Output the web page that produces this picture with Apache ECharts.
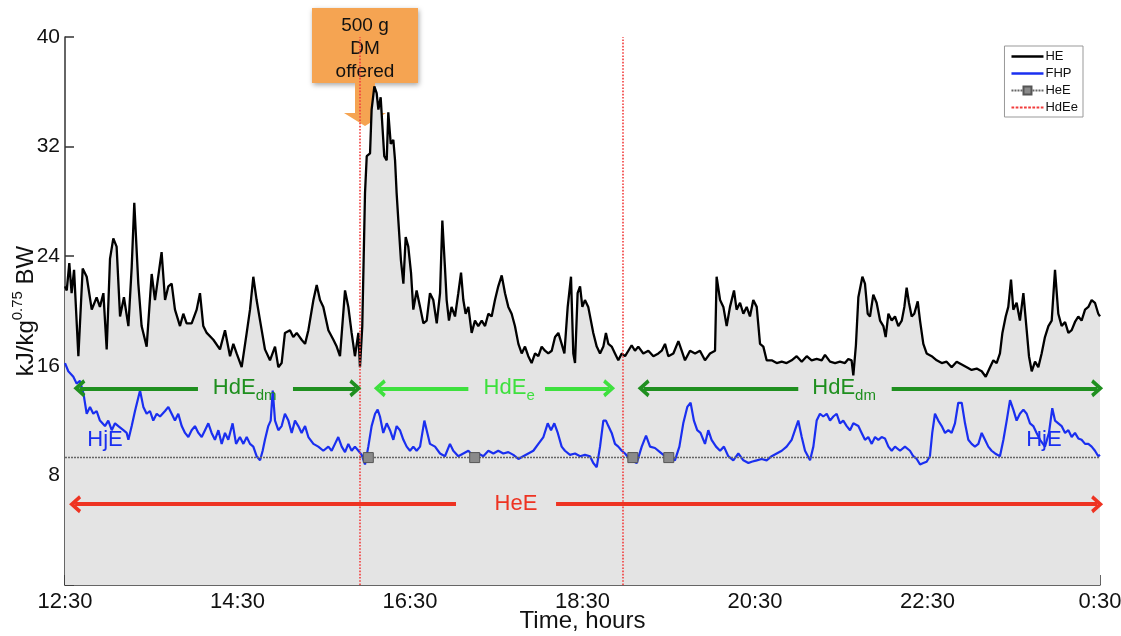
<!DOCTYPE html>
<html><head><meta charset="utf-8">
<script src="https://cdn.jsdelivr.net/npm/echarts@6/dist/echarts.min.js"></script>
<style>html,body{margin:0;padding:0;background:#fff}#c{width:1121px;height:636px}</style>
</head><body><div id="c"></div>
<script>
// x values: minutes after 12:30
const xTickLabels = ['12:30','14:30','16:30','18:30','20:30','22:30','0:30'];
const HE = [[0,21.8],[1.2,21.5],[3,23.5],[4.6,21.3],[6.3,23.0],[9.3,16.7],[12.3,23.1],[15.1,22.5],[18.6,20.1],[22,21.0],[24.3,20.3],[26.7,21.3],[29,17.2],[31.3,23.8],[33.6,25.3],[35.9,24.7],[38.3,19.6],[41,21.0],[44.1,18.9],[46.4,23.2],[48.2,27.9],[51,22.0],[53.3,18.9],[56.8,17.4],[60.3,22.7],[62.6,20.8],[67.2,24.3],[69.6,20.8],[71.9,21.8],[74.2,22.0],[76.5,20.1],[80,18.9],[82.3,19.8],[84.6,19.1],[88.1,19.1],[91.6,20.1],[93.9,21.3],[96.2,18.9],[98.6,18.4],[103.2,17.9],[107.8,17.2],[111.3,18.6],[114.8,16.7],[117.1,17.6],[119.4,16.9],[122.9,15.9],[126.4,18.4],[128.7,20.1],[131,22.5],[133.3,20.8],[135.7,19.3],[139.1,17.2],[142.6,16.4],[146.1,17.4],[148.4,15.9],[150.7,16.2],[153,18.4],[156.5,18.6],[158.8,18.1],[161.2,18.4],[164.6,17.9],[167,17.6],[169.3,18.6],[172.8,20.8],[175.1,21.9],[177.4,20.8],[179.7,20.3],[183.2,18.6],[186.7,17.9],[189,17.4],[191.3,16.7],[194.8,21.5],[197.1,20.3],[199.4,18.4],[201.7,16.7],[204.1,18.4],[205.2,15.9],
[206.8,18.9],[208.7,28.6],[209.9,31.3],[212.2,31.5],[213.3,34.7],[215.2,36.4],[216.8,35.9],[218,34.7],[219.6,35.6],[220.8,33.5],[222.1,31.3],[223.8,31.0],[224.9,34.5],[226.6,32.2],[228.4,32.5],[229.6,31.0],[230.7,28.6],[231.9,26.6],[233.7,23.7],[235.4,22.0],[237,25.4],[238.8,24.7],[240.7,22.8],[242.3,20.1],[244.6,21.5],[247,20.3],[249.3,19.1],[251.6,19.3],[253.9,21.3],[256.2,20.8],[258.6,19.1],[260.9,21.3],[262.5,26.6],[264.3,23.2],[265.5,20.8],[267.1,19.3],[268.9,20.3],[271.3,19.6],[273.6,21.3],[275.5,22.8],[277.1,20.8],[278.7,19.8],[280.6,20.3],[282.9,18.4],[285.2,19.3],[287.5,18.9],[289.9,19.3],[292.2,18.9],[294.5,19.8],[296.8,19.6],[299.1,20.8],[301.4,21.8],[303.8,22.6],[306.1,21.3],[308.4,20.3],[310.7,19.8],[313,18.9],[315.4,17.6],[317.7,16.9],[320,17.4],[322.3,16.7],[324.6,16.2],[327,16.9],[329.3,16.7],[331.6,17.4],[333.9,17.1],[336.2,16.9],[338.6,17.1],[340.9,18.1],[343.2,18.4],[345.5,17.6],[347.4,16.9],[349.7,20.3],[352,22.5],[353.6,16.9],[354.8,16.2],[356.6,21.3],[358.3,21.8],[359.9,20.3],[361.7,20.8],[364,20.3],
[367.5,18.4],[369.9,17.4],[372.2,16.9],[374.5,17.4],[376.3,18.4],[378,17.6],[380.3,17.4],[382.6,16.9],[384.9,16.4],[387.3,16.9],[389.6,16.7],[391.9,17.1],[394.2,17.5],[396.5,17.1],[398.8,17.4],[402.3,16.9],[405.8,17.1],[409.3,16.7],[412.8,16.9],[415.1,17.1],[417.4,17.6],[419.7,16.7],[423.2,16.9],[426.7,17.8],[429,17.1],[431.3,16.4],[434.8,17.1],[438.3,16.9],[441.7,17.1],[445.2,16.4],[448.7,16.9],[452.2,17.1],[453.3,22.5],[455.7,20.8],[458,20.3],[460.3,18.9],[462.6,20.3],[465.4,21.5],[467.2,20.1],[469.6,20.6],[471.9,19.8],[474.2,20.3],[476.5,19.6],[478.8,20.8],[481.2,20.3],[483.5,17.6],[485.8,17.4],[488.1,16.4],[491.6,16.4],[495.1,16.2],[498.6,16.3],[502,16.2],[505.5,16.4],[509,16.7],[512.5,16.3],[516,16.7],[519.4,16.4],[522.9,16.5],[526.4,16.4],[528.7,16.8],[532.2,16.3],[535.7,16.2],[539.1,16.3],[542.6,16.2],[544.9,16.5],[547.2,16.4],[548.4,15.3],[550.2,17.5],
[551.9,21.0],[554.7,22.5],[556.5,22.0],[558.4,19.8],[560,19.6],[562.3,21.2],[564.6,20.6],[567,19.3],[569.3,18.9],[570.9,18.1],[572.8,19.8],[575.1,19.3],[577.4,19.6],[579.7,18.9],[582.1,19.3],[583.9,20.3],[585.5,21.7],[587.1,20.6],[589,19.6],[590.8,19.8],[593.2,20.7],[594.8,19.3],[597.1,17.6],[599.4,16.9],[602.9,16.7],[606.4,16.4],[609.9,16.2],[613.3,16.3],[616.8,15.9],[620.3,16.3],[623.8,16.1],[627.3,15.9],[630.7,15.7],[634.2,15.8],[637.7,15.6],[640.5,15.2],[643.5,15.9],[645.8,16.4],[648.1,16.2],[650.4,16.9],[652.1,18.4],[654.4,19.6],[656.2,20.3],[658.1,22.3],[659.7,20.1],[662,20.6],[664.3,19.3],[666.7,21.3],[669,18.6],[670.6,16.7],[672.5,15.6],[674.8,16.3],[677.1,15.9],[679.4,16.9],[681.7,18.1],[684.1,18.9],[686.4,19.3],[688.7,23.0],[691,19.8],[693.3,18.9],[695.7,19.2],[698,18.4],[700.3,18.6],[702.6,19.2],[704.9,19.6],[707.2,19.3],[709.6,20.1],[711.9,20.3],[714.2,20.8],[716.5,20.6],[718.8,19.8],[720,19.6]];
const FHP = [[0,16.2],[2.3,15.6],[5.8,15.2],[8.1,14.7],[10.4,14.9],[12.8,14.0],[15.1,12.5],[17.4,13.0],[19.7,12.5],[22,12.7],[24.3,12.0],[27.8,11.6],[30.1,12.0],[32.5,11.3],[34.8,11.8],[37.1,11.6],[40.6,11.3],[42.9,11.1],[44.1,10.6],[46.4,11.6],[48.7,12.7],[52.2,14.2],[54.5,13.0],[56.8,12.5],[59.1,12.7],[61.4,12.0],[63.8,12.5],[66.1,12.3],[69.6,12.7],[71.9,13.0],[74.2,12.5],[76.5,12.0],[78.8,12.5],[81.2,11.6],[83.5,11.1],[85.8,10.8],[88.1,11.3],[90.4,11.6],[92.8,11.1],[95.1,10.8],[97.4,11.3],[99.7,11.8],[102,11.1],[104.3,10.6],[106.7,11.3],[109,10.3],[111.3,11.1],[113.6,10.6],[116.6,11.8],[119,10.3],[121.7,10.8],[124.1,10.3],[126.4,10.8],[128.7,10.3],[131,10.1],[133.3,9.4],[135.7,9.1],[137.5,9.8],[139.1,10.6],[141.4,11.6],[143.1,12.0],[144.5,14.2],[146.1,12.0],[148.4,11.3],[150.7,11.6],[153,12.5],[155.4,12.0],[157.7,11.1],[160,12.0],[162.3,11.6],[164.6,11.1],[167,11.6],[169.3,10.8],[172.8,10.3],[176.2,10.1],[179.7,9.8],[183.2,10.1],
[185.5,9.8],[187.8,10.3],[190.1,10.8],[192.5,10.1],[194.8,9.7],[197.1,10.3],[199.4,9.8],[201.7,10.1],[204.1,9.8],[206.4,9.5],[208.7,8.8],[211,10.1],[213.3,11.6],[215.7,12.5],[217.5,12.8],[219.1,12.3],[221.4,11.1],[223.8,11.8],[226.1,11.3],[228.4,10.6],[230.7,11.6],[233,11.3],[235.4,10.6],[237.7,10.1],[240,9.8],[242.3,10.1],[244.6,9.8],[247,10.1],[250,12.0],[251.6,11.3],[253.9,10.3],[257.4,10.1],[260.9,9.6],[264.3,9.4],[267.8,10.3],[270.1,9.8],[273.6,9.4],[277.1,9.6],[280.6,9.8],[284.1,9.4],[287.5,9.6],[291,9.4],[294.5,9.8],[298,9.6],[301.4,9.8],[304.9,9.6],[308.4,9.7],[311.9,9.5],[315.4,9.2],[318.8,9.4],[322.3,9.6],[325.8,9.8],[329.3,10.3],[332.8,10.8],[335.8,11.8],[338.1,11.3],[340.4,11.8],[342.8,11.1],[345.5,10.1],[347.8,9.8],[351.3,9.5],[354.8,9.6],[358.3,9.4],[361.7,9.5],
[365.2,9.4],[367.5,8.9],[369.9,8.6],[372.2,10.1],[374.5,12.0],[376.3,12.0],[378,11.6],[380.3,11.1],[382.6,10.3],[384.9,10.1],[387.3,9.8],[389.6,9.6],[391.9,9.3],[394.2,9.1],[397.7,8.9],[401.2,10.1],[404.2,10.9],[407,10.1],[410.4,10.0],[413.9,9.7],[417.4,9.4],[420.9,9.4],[424.3,9.1],[427.4,10.1],[430.1,11.8],[432.9,13.0],[435.2,13.3],[437.5,12.0],[439.8,11.3],[442.1,11.1],[445.2,10.3],[447.5,11.3],[449.8,10.6],[452.9,10.1],[455.7,9.8],[458.4,10.1],[461.4,9.4],[464.9,9.1],[468.4,9.6],[471.9,9.1],[475.4,8.9],[477.7,9.0],[481.2,9.1],[484.6,9.2],[488.1,9.1],[491.6,9.4],[495.1,9.6],[498.6,9.8],[502,10.1],[505.5,10.6],[507.8,11.3],[510.1,12.0],[512.5,10.8],[514.8,9.8],[518.3,9.1],[520.6,10.1],[522.9,12.0],[525.2,12.5],[527.5,12.3],[529.9,12.5],[532.2,12.0],[534.5,12.3],[536.8,12.5],[539.1,11.8],[541.4,12.0],[543.8,11.6],[546.1,11.3],[548.4,11.8],
[551.9,11.6],[554.2,11.1],[556.5,10.6],[558.8,10.8],[561.2,10.3],[563.5,10.8],[565.8,10.6],[568.1,10.8],[570.4,10.7],[572.8,10.1],[575.1,9.8],[577.4,10.1],[580.9,9.8],[584.3,10.1],[587.8,9.8],[590.1,9.4],[592.5,9.2],[594.8,8.8],[597.1,8.9],[599.4,9.0],[601.7,9.4],[603.3,11.1],[605.2,12.5],[607.5,12.0],[609.9,11.6],[612.2,11.1],[614.5,11.3],[616.8,11.1],[619.1,11.8],[621.4,13.3],[623.8,13.3],[626.1,11.8],[628.4,10.6],[630.7,10.3],[633,10.1],[635.4,10.3],[637.7,11.1],[640,10.6],[642.3,10.1],[644.6,9.8],[647,9.6],[650.4,9.4],[652.8,10.6],[655.1,12.0],[657.4,13.5],[659.7,12.8],[662,12.0],[664.3,12.5],[666.7,12.8],[669,12.5],[671.3,11.8],[673.6,11.6],[675.9,11.1],[678.3,10.6],[681.7,10.1],[684.5,11.1],[686.8,12.9],[688.7,12.0],[691,11.8],[693.3,11.6],[695.7,11.1],[698,11.3],[700.3,10.8],[702.6,11.1],[704.9,10.7],[707.2,10.6],[709.6,10.3],[711.9,10.3],[714.2,10.1],[716.5,9.8],[718.8,9.4],[720,9.5]];
const HEE_LEVEL = 9.3;
const HEE_MARKS = [211, 285, 395, 420];
const HDEE_TIMES = [205, 388];

const FONT = '"Liberation Sans", Arial, Helvetica, sans-serif';
const DK_GREEN = '#1f8f1f', LT_GREEN = '#3ee03e', RED = '#ee3322', BLUE = '#1a2ff0', HDEE_RED = '#f23c3c';
const CHEVRON = 'path://M0,10 L10,0 L20,10 L16.5,12 L10,5.5 L3.5,12 Z';
const SOLID_ICON = 'path://M0,0H32V2.4H0Z';
let dashPath = 'path://';
for (let i = 0; i < 8; i++) dashPath += 'M' + (i * 4) + ',0h2.6v1.8h-2.6Z';
const DOT_ICON = dashPath;

// annotation arrows: [from, to, level, color, head]
const ARROWS = [
  [10, 92.5, 14.36, DK_GREEN, 'start'], [158.6, 202, 14.36, DK_GREEN, 'end'],
  [219, 280.6, 14.36, LT_GREEN, 'start'], [333.9, 378.5, 14.36, LT_GREEN, 'end'],
  [402.5, 510.1, 14.36, DK_GREEN, 'start'], [575.1, 718, 14.36, DK_GREEN, 'end'],
  [7, 272, 5.9, RED, 'start'], [341.6, 718, 5.9, RED, 'end']
];
const LABELS = [
  {t: 125, v: 14.36, main: 'HdE', sub: 'dm', color: DK_GREEN},
  {t: 309, v: 14.36, main: 'HdE', sub: 'e', color: LT_GREEN},
  {t: 542, v: 14.36, main: 'HdE', sub: 'dm', color: DK_GREEN},
  {t: 313.7, v: 5.9, main: 'HeE', sub: '', color: RED},
  {t: 27.8, v: 10.6, main: 'HjE', sub: '', color: BLUE},
  {t: 681, v: 10.6, main: 'HjE', sub: '', color: BLUE}
];

const chart = echarts.init(document.getElementById('c'), null, {renderer: 'canvas'});

const heeData = [{value: [0, HEE_LEVEL], symbol: 'none'}]
  .concat(HEE_MARKS.map(t => ({value: [t, HEE_LEVEL]})))
  .concat([{value: [720, HEE_LEVEL], symbol: 'none'}]);

const arrowLines = ARROWS.map(a => {
  const [f, t, lv, col, head] = a;
  return [
    {coord: [f, lv], symbol: head === 'start' ? CHEVRON : 'none', symbolSize: [18, 12], lineStyle: {color: col, width: 4, type: 'solid'}, itemStyle: {color: col}},
    {coord: [t, lv], symbol: head === 'end' ? CHEVRON : 'none', symbolSize: [18, 12]}
  ];
});

chart.setOption({
  animation: false,
  backgroundColor: '#fff',
  textStyle: {fontFamily: FONT},
  grid: {left: 65, right: 21, top: 37, bottom: 51, containLabel: false, outerBoundsMode: 'none'},
  legend: {
    data: [
      {name: 'HE', icon: SOLID_ICON},
      {name: 'FHP', icon: SOLID_ICON},
      {name: 'HeE'},
      {name: 'HdEe', icon: DOT_ICON}
    ],
    orient: 'vertical', right: 38, top: 46,
    itemWidth: 32, itemHeight: 10, itemGap: 4, symbolKeepAspect: true,
    padding: [4, 5, 3, 6],
    borderColor: '#999', borderWidth: 1, backgroundColor: '#fff',
    textStyle: {fontSize: 13, color: '#111', fontFamily: FONT, padding: [0, 0, 0, -3]}
  },
  xAxis: {
    type: 'value', min: 0, max: 720, interval: 120,
    name: 'Time, hours', nameLocation: 'middle', nameGap: 24, nameMoveOverlap: false,
    nameTextStyle: {fontSize: 24, color: '#111', fontFamily: FONT},
    axisLine: {lineStyle: {color: '#333', width: 1.5}},
    axisTick: {inside: true, length: 10, lineStyle: {color: '#333', width: 1.5}},
    axisLabel: {fontSize: 22, color: '#111', margin: 6, fontFamily: FONT,
      formatter: v => xTickLabels[Math.round(v / 120)]},
    splitLine: {show: false}
  },
  yAxis: {
    type: 'value', min: 0, max: 40, interval: 8,
    name: '{a|kJ/kg}{s|0.75}{a| BW}', nameLocation: 'middle', nameRotate: 90, nameGap: 23, nameMoveOverlap: false,
    nameTextStyle: {fontFamily: FONT, rich: {
      a: {fontSize: 24, lineHeight: 32, color: '#111', fontFamily: FONT},
      s: {fontSize: 15, lineHeight: 15, verticalAlign: 'top', color: '#111', fontFamily: FONT}
    }},
    axisLine: {show: true, lineStyle: {color: '#333', width: 1.5}},
    axisTick: {show: true, inside: true, length: 9, lineStyle: {color: '#333', width: 1.5}},
    axisLabel: {fontSize: 21, color: '#111', margin: 5, fontFamily: FONT,
      formatter: v => v === 0 ? '' : String(v)},
    splitLine: {show: false}
  },
  series: [
    {name: 'HE', type: 'line', data: HE, symbol: 'none', z: 2,
      lineStyle: {color: '#000', width: 2.3}, itemStyle: {color: '#000'},
      areaStyle: {color: '#e4e4e4', opacity: 1}},
    {name: 'FHP', type: 'line', data: FHP, symbol: 'none', z: 3,
      lineStyle: {color: BLUE, width: 2.2}, itemStyle: {color: BLUE}},
    {name: 'HeE', type: 'line', data: heeData, symbol: 'rect', symbolSize: 10, showAllSymbol: true, z: 4,
      lineStyle: {color: '#666', width: 1.5, type: [2, 1]},
      itemStyle: {color: '#8a8a8a', borderColor: '#555', borderWidth: 1}},
    {name: 'HdEe', type: 'line', data: [], symbol: 'none', z: 5,
      lineStyle: {color: HDEE_RED, width: 1.6, type: 'dotted'}, itemStyle: {color: HDEE_RED},
      markLine: {silent: true, symbol: ['none', 'none'], label: {show: false},
        lineStyle: {color: HDEE_RED, width: 1.6, type: 'dotted'},
        data: HDEE_TIMES.map(t => ({xAxis: t}))}},
    {name: 'annot', type: 'line', data: [], symbol: 'none', z: 6,
      markLine: {silent: true, symbol: ['none', 'none'], label: {show: false}, data: arrowLines}}
  ]
});

function place() {
  const g = [];
  g.push({type: 'rect', z: 1, shape: {x: 312, y: 8, width: 106, height: 75},
    style: {fill: '#f5a452', shadowBlur: 5, shadowColor: 'rgba(0,0,0,0.35)', shadowOffsetX: 1, shadowOffsetY: 2}});
  g.push({type: 'polygon', z: 1, shape: {points: [[355, 82], [375, 82], [375, 113], [386, 113], [365, 126], [344, 113], [355, 113]]},
    style: {fill: '#f5a452'}});
  g.push({type: 'text', z: 1, style: {text: '500 g\nDM\noffered', x: 365, y: 49, align: 'center', verticalAlign: 'middle',
    font: '19px ' + FONT, lineHeight: 23, fill: '#111'}});
  LABELS.forEach(l => {
    const p = chart.convertToPixel({gridIndex: 0}, [l.t, l.v]);
    g.push({type: 'text', z: 20, style: {
      text: l.sub ? '{a|' + l.main + '}{s|' + l.sub + '}' : '{a|' + l.main + '}',
      x: p[0], y: p[1], align: 'center', verticalAlign: 'middle',
      rich: {
        a: {fontSize: 22, lineHeight: 30, fill: l.color, fontFamily: FONT, verticalAlign: 'middle'},
        s: {fontSize: 15, lineHeight: 15, fill: l.color, fontFamily: FONT, verticalAlign: 'bottom'}
      }}});
  });
  chart.setOption({graphic: g});
}
place();
</script>
</body></html>
